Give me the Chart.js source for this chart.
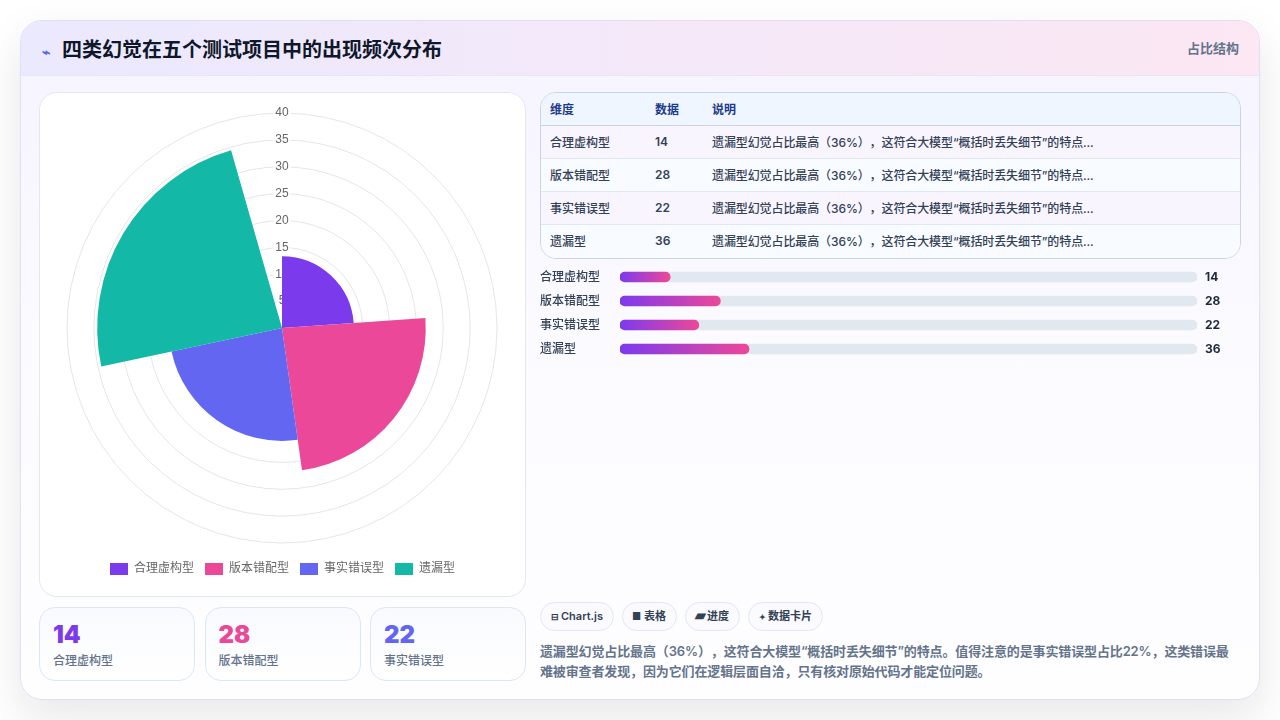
<!DOCTYPE html>
<html lang="zh-CN">
<head>
<meta charset="utf-8">
<title>四类幻觉在五个测试项目中的出现频次分布</title>
<script src="https://cdn.jsdelivr.net/npm/chart.js@4"></script>
<style>
* { box-sizing: border-box; margin: 0; padding: 0; }
html, body { width: 1280px; height: 720px; overflow: hidden; background: #fff; }
body { font-family: Inter, "Noto Sans CJK SC", sans-serif; color: #334155; position: relative; text-spacing-trim: space-all; }
.card { position: absolute; left: 20px; top: 20px; width: 1240px; height: 680px; border-radius: 22px; border: 1px solid #e2dff5;
  background: linear-gradient(180deg, #f5f3ff 0%, #fbfaff 45%, #fefdff 100%); box-shadow: 0 18px 45px rgba(15, 23, 42, 0.10); overflow: hidden; }
.head { position: absolute; left: 0; top: 0; width: 100%; height: 55px; background: linear-gradient(90deg, #ebe9fe, #fce7f3); border-bottom: 1px solid #e5e7f5; }
.head h1 { position: absolute; left: 21px; top: 15px; font-size: 20px; line-height: 28px; font-weight: 700; color: #0f172a; }
.head h1 span { display: inline-block; width: 20px; font-size: 14px; color: #4f6be0; }
.head .tag { position: absolute; right: 20px; top: 18px; font-size: 13px; line-height: 18px; font-weight: 600; color: #64748b; }
.polar { position: absolute; left: 18px; top: 71px; width: 487px; height: 505px; background: #fff; border: 1px solid #e2e8f0; border-radius: 18px; }
.polar canvas { position: absolute; left: 12px; top: 12px; }
.stat { position: absolute; top: 586px; width: 156px; height: 74px; border: 1px solid #dbe7f5; border-radius: 16px; background: linear-gradient(180deg, #f8faff, #fff); }
.stat b { position: absolute; left: 13px; top: 12px; font-size: 24px; line-height: 30px; font-weight: 900; }
.stat em { position: absolute; left: 13px; top: 44px; font-style: normal; font-size: 12px; line-height: 18px; font-weight: 500; color: #64748b; }
table { position: absolute; left: 519px; top: 71px; width: 701px; height: 167px; border-collapse: separate; border-spacing: 0; border: 1px solid #cbd5e1; border-radius: 16px; overflow: hidden; font-size: 12px; font-weight: 500; }
th, td { text-align: left; padding: 0 0 2px 9px; height: 33px; border-bottom: 1px solid #e2e8f0; }
th { background: #eff6ff; color: #1e3a8a; border-bottom-color: #cbd5e1; font-weight: 600; }
td:nth-child(2) { font-weight: 600; }
td:nth-child(3) { letter-spacing: -0.1px; }
tr:last-child td { border-bottom: 0; }
tr:nth-child(even) td { background: #f8f5ff; }
tr:nth-child(odd) td { background: #f8fbff; }
.bars { position: absolute; left: 519px; top: 238px; }
.chips { position: absolute; left: 519px; top: 581px; display: flex; gap: 8px; }
.chips span { height: 29px; line-height: 27px; padding: 0 10px; border: 1px solid #e2e8f0; border-radius: 15px; background: #fafaff; font-size: 11px; font-weight: 600; color: #334155; white-space: nowrap; }
.chips i { display: inline-block; width: 7px; margin-right: 3px; font-style: normal; font-size: 9px; line-height: 1; text-align: left; }
.chips i.square { width: 8px; font-size: 10px; margin-left: -1px; margin-right: 4px; }
.chips i.wide { width: 8px; font-size: 14px; margin-left: -1px; margin-right: 4px; }
.chips i.small { width: 5px; margin-right: 4px; font-size: 8px; }
.note { position: absolute; left: 519px; top: 620px; width: 700px; font-size: 13px; line-height: 20px; font-weight: 600; letter-spacing: -0.13px; color: #64748b; }
</style>
</head>
<body>
<div class="card">
  <div class="head">
    <h1><span>⌁</span>四类幻觉在五个测试项目中的出现频次分布</h1>
    <div class="tag">占比结构</div>
  </div>
  <div class="polar"><canvas id="polarChart" width="461" height="480"></canvas></div>
  <div id="stats"></div>
  <table id="dataTable"></table>
  <div class="bars"><canvas id="barChart" width="700" height="108"></canvas></div>
  <div class="chips"><span><i>⊟</i>Chart.js</span><span><i class="square">■</i>表格</span><span><i class="wide">▰</i>进度</span><span><i class="small">✦</i>数据卡片</span></div>
  <p class="note" id="note"></p>
</div>
<script>
const categories = ['合理虚构型', '版本错配型', '事实错误型', '遗漏型'];
const counts = [14, 28, 22, 36];
const colors = ['#7c3aed', '#ec4899', '#6366f1', '#14b8a6'];
const statCount = 3;
const tableHeaders = ['维度', '数据', '说明'];
const rowNote = '遗漏型幻觉占比最高（36%），这符合大模型“概括时丢失细节”的特点...';
const noteText = '遗漏型幻觉占比最高（36%），这符合大模型“概括时丢失细节”的特点。值得注意的是事实错误型占比22%，这类错误最难被审查者发现，因为它们在逻辑层面自洽，只有核对原始代码才能定位问题。';

// the reference froze just before its intro animation ended
const sliceAngle = 86;
const radiusProgress = 0.955;
const barAxisMax = 161;

document.getElementById('note').textContent = noteText;

document.getElementById('dataTable').innerHTML =
    '<colgroup><col style="width:105px"><col style="width:57px"><col></colgroup>' +
    '<tr>' + tableHeaders.map(h => `<th>${h}</th>`).join('') + '</tr>' +
    categories.map((c, i) => `<tr><td>${c}</td><td>${counts[i]}</td><td>${rowNote}</td></tr>`).join('');

document.getElementById('stats').innerHTML = categories.slice(0, statCount).map((c, i) =>
    `<div class="stat" style="left:${18 + i * 165.5}px"><b style="color:${colors[i]}">${counts[i]}</b><em>${c}</em></div>`).join('');

const radiusFreeze = {
    id: 'radiusFreeze',
    afterDatasetsUpdate(chart) {
        chart.getDatasetMeta(0).data.forEach(el => { el.outerRadius *= radiusProgress; });
    }
};

new Chart(document.getElementById('polarChart'), {
    type: 'polarArea',
    plugins: [radiusFreeze],
    data: {
        labels: categories,
        datasets: [{
            data: counts,
            backgroundColor: colors,
            borderWidth: 0,
            angle: sliceAngle
        }]
    },
    options: {
        responsive: false,
        animation: false,
        plugins: {
            legend: {
                position: 'bottom',
                labels: { boxWidth: 18, boxHeight: 12, padding: 11, font: { weight: '500' } }
            },
            tooltip: { enabled: false }
        },
        scales: {
            r: {
                min: 0,
                max: 40,
                ticks: { stepSize: 5 }
            }
        }
    }
});

const barFill = (context) => {
    const { chart, dataIndex } = context;
    const x = chart.scales.x;
    const from = x.getPixelForValue(0);
    const to = x.getPixelForValue(counts[dataIndex]);
    // scales have no pixels yet on the first option pass
    if (!Number.isFinite(from) || !Number.isFinite(to)) return colors[0];
    const grad = chart.ctx.createLinearGradient(from, 0, to, 0);
    grad.addColorStop(0, '#7c3aed');
    grad.addColorStop(1, '#ec4899');
    return grad;
};

new Chart(document.getElementById('barChart'), {
    type: 'bar',
    data: {
        labels: categories,
        datasets: [
            {
                data: counts,
                backgroundColor: barFill,
                borderRadius: 5,
                borderSkipped: false,
                barThickness: 10,
                grouped: false,
                order: 1
            },
            {
                data: categories.map(() => barAxisMax),
                backgroundColor: '#e2e8f0',
                borderRadius: 5,
                borderSkipped: false,
                barThickness: 10,
                grouped: false,
                order: 2
            }
        ]
    },
    options: {
        indexAxis: 'y',
        responsive: false,
        animation: false,
        layout: { padding: 0, autoPadding: false },
        plugins: { legend: { display: false }, tooltip: { enabled: false } },
        scales: {
            x: { display: false, min: 0, max: barAxisMax },
            y: {
                grid: { display: false },
                border: { display: false },
                afterFit(scale) { scale.width = 80; },
                ticks: {
                    autoSkip: false,
                    crossAlign: 'far',
                    padding: 0,
                    color: '#334155',
                    font: { family: 'Inter, "Noto Sans CJK SC"', size: 12, weight: '500', lineHeight: 1 }
                }
            },
            y2: {
                type: 'category',
                position: 'right',
                labels: counts.map(String),
                grid: { display: false },
                border: { display: false },
                afterFit(scale) { scale.width = 43; },
                ticks: {
                    autoSkip: false,
                    padding: 0,
                    color: '#1e293b',
                    font: { family: 'Inter, "Noto Sans CJK SC"', size: 12, weight: '700', lineHeight: 1 }
                }
            }
        }
    }
});
</script>
</body>
</html>
